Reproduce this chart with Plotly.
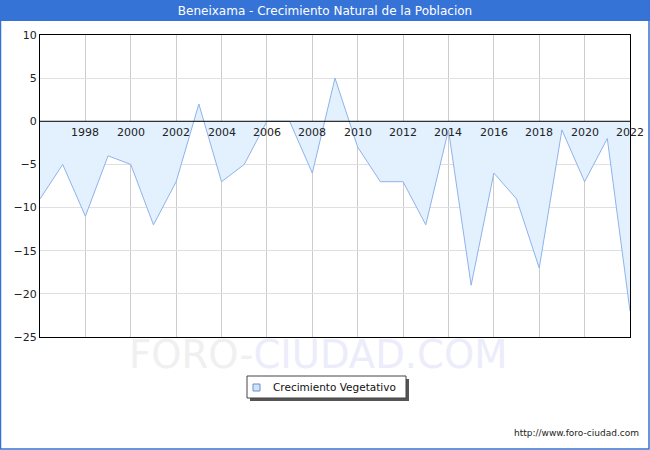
"""Beneixama - crecimiento natural de la población (nacimientos - defunciones)."""

import plotly.graph_objects as go

years = list(range(1996, 2023))
crecimiento = [-9, -5, -11, -4, -5, -12, -7, 2, -7, -5, 0, 0, -6, 5, -3,
               -7, -7, -12, -1, -19, -6, -9, -17, -1, -7, -2, -22]
tick_years = list(range(1998, 2023, 2))
tick_labels = [str(y) for y in tick_years]
serie = "Crecimiento Vegetativo"

W, H = 650, 450
L, R, T, B = 40, 20, 35, 113
PW, PH = W - L - R, H - T - B


def px_x(p):
    return (p - L) / PW


def px_y(p):
    return (H - B - p) / PH


def rect(x0, y0, x1, y1, **kw):
    return dict(type="rect", xref="paper", yref="paper",
                x0=px_x(x0), x1=px_x(x1), y0=px_y(y1), y1=px_y(y0), **kw)


fig = go.Figure()
fig.add_trace(go.Scatter(
    x=years, y=crecimiento, name=serie, showlegend=False,
    mode="lines", fill="tozeroy", fillcolor="#e3f1ff",
    line=dict(color="#8fb2ea", width=1),
))

# etiquetas del eje x sobre la línea del cero
for yr, lab in zip(tick_years, tick_labels):
    fig.add_annotation(x=yr, y=0, text=lab, showarrow=False, yanchor="top",
                       yshift=-3, font=dict(size=11, color="#222"))

shapes = [
    # barra del título
    rect(0, 0, W, 21, fillcolor="#3673d6", line=dict(width=0), layer="below"),
    # borde exterior
    rect(0.5, 0.5, W - 1, H - 1, line=dict(color="#3673d6", width=1.5)),
    # línea del cero por encima del relleno
    dict(type="line", xref="paper", yref="y", x0=0, x1=1, y0=0, y1=0,
         line=dict(color="black", width=1)),
    # leyenda dibujada a mano (sombra, caja, cuadrado)
    rect(250, 379, 409, 401, fillcolor="#555", line=dict(width=0)),
    rect(247, 376, 406, 398, fillcolor="white", line=dict(color="#444", width=1)),
    rect(253, 384, 260, 391, fillcolor="#cce4ff", line=dict(color="#6e8fbf", width=1)),
]

fig.add_annotation(xref="paper", yref="paper", x=px_x(271), y=px_y(387), showarrow=False,
                   xanchor="left", yanchor="middle", text=serie,
                   font=dict(size=10.5, color="#111"))
fig.add_annotation(
    xref="paper", yref="paper", x=px_x(318), y=px_y(354), showarrow=False,
    xanchor="center", yanchor="middle",
    text='<span style="color:#f0f0f0">FORO-</span><span style="color:#ececfa">CIUDAD.COM</span>',
    font=dict(size=38.5, family="DejaVu Sans"),
)
fig.add_annotation(
    xref="paper", yref="paper", x=px_x(641), y=px_y(433), showarrow=False,
    xanchor="right", yanchor="middle", text="http://www.foro-ciudad.com",
    font=dict(size=9, color="#222"),
)

fig.update_layout(
    width=W, height=H, margin=dict(l=L, r=R, t=T, b=B),
    paper_bgcolor="white", plot_bgcolor="white",
    font=dict(family="DejaVu Sans", size=11, color="#222"),
    title=dict(text="Beneixama - Crecimiento Natural de la Poblacion", x=0.5, xanchor="center",
               y=1 - 11 / H, yanchor="middle", font=dict(size=12, color="white")),
    shapes=shapes,
    showlegend=False,
)
fig.update_xaxes(range=[1996, 2022], tickvals=tick_years, showticklabels=False,
                 showgrid=True, gridcolor="#cccccc", gridwidth=1, zeroline=False,
                 showline=True, linecolor="black", mirror=True, ticks="")
fig.update_yaxes(range=[-25, 10], dtick=5, showgrid=True, gridcolor="#e0e0e0",
                 zeroline=False, showline=True, linecolor="black", mirror=True, ticks="")

fig.write_html("out.html", config={"displayModeBar": False},
               post_script="document.body.style.margin='0';")
